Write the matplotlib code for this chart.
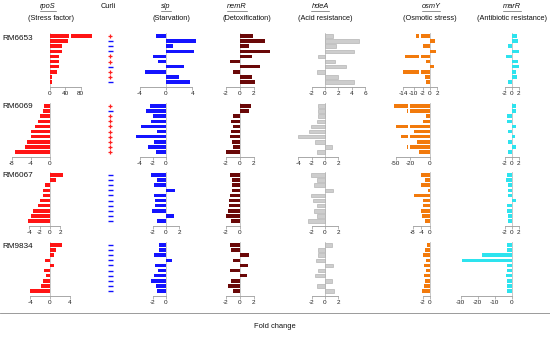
import numpy as np
import matplotlib
matplotlib.use("Agg")
import matplotlib.pyplot as plt
from matplotlib.lines import Line2D

plt.rcParams['font.family'] = ['Liberation Sans', 'DejaVu Sans']
plt.rcParams['axes.unicode_minus'] = False

# ---------------- data ----------------
strains = ['RM6653', 'RM6069', 'RM6067', 'RM9834']
genes = ['rpoS', 'slp', 'nemR', 'hdeA', 'osmY', 'marR']
functions = ['(Stress factor)', '(Starvation)', '(Detoxification)',
             '(Acid resistance)', '(Osmotic stress)', '(Antibiotic resistance)']

rpoS = [[102, 48, 32, 32, 24, 24, 23, 19, 5, 5],
        [-1.2, -1.5, -2.0, -2.6, -3.2, -4.0, -3.9, -4.8, -5.2, -7.4],
        [2.5, 1.2, -1.0, -1.3, -1.4, -2.0, -2.3, -3.2, -3.7, -4.2],
        [2.5, 1.2, 0.9, -1.0, 0.8, -1.3, -0.9, -1.5, -1.8, -4.0]]
slp = [[-1.5, 4.6, 1.0, 4.3, -1.9, -1.2, 2.7, -3.2, 1.9, 3.7],
       [-2.4, -3.0, -2.0, -2.3, -3.8, -1.4, -4.5, -1.8, -2.8, -1.5],
       [-2.3, -1.4, -1.8, 1.4, -1.8, -1.7, -1.7, -2.1, 1.2, -1.3],
       [-1.1, -1.1, -1.8, 0.9, -1.6, -1.2, -1.8, -2.2, -1.5, -1.4]]
nemR = [[1.9, 3.6, 1.3, 4.3, 1.8, -1.3, 2.9, -1.0, 1.8, 2.2],
        [1.6, 1.3, -1.0, -1.2, -1.0, -1.2, -1.3, -1.1, -1.0, -1.9],
        [-1.4, -1.1, -1.1, -1.1, -1.4, -1.5, -1.5, -1.6, -1.9, -1.2],
        [-1.3, -1.2, 1.3, -1.0, 1.2, -1.4, 1.0, -1.2, -1.6, -1.0]]
hdeA = [[1.15, 5.1, 1.6, 4.3, -1.1, 1.5, 3.2, -1.2, 1.9, 4.3],
        [-1.1, -1.1, -1.0, -1.25, -2.1, -2.35, -4.1, -1.5, 1.1, -1.15],
        [-2.1, -1.25, -1.6, 1.25, -2.15, -1.85, -1.25, -1.6, -1.15, -2.6],
        [1.1, -1.1, -1.1, -1.3, 1.2, -1.0, -1.5, 1.0, -1.2, 1.4]]
osmY = [[-9.3, 1.4, -2.1, 1.6, -13.2, -1.15, 1.0, -14.3, -1.4, -1.25],
        [-54, -25.4, -4.3, -7.3, -50, -16, -37, -12.7, -25, -11],
        [-4.1, -2.5, -4.1, -1.1, -7.3, -3.4, -3.1, -4.4, -3.9, -2.5],
        [-1.0, -1.5, -1.9, -1.2, -1.6, -1.1, -1.8, -1.3, -1.7, -2.2]]
marR = [[1.6, 1.8, -1.15, 2.2, -1.6, 1.9, 2.2, 1.15, 1.4, -1.15],
        [1.15, 1.25, -1.4, -1.25, 1.25, -1.05, 1.05, -1.05, 1.15, -1.15],
        [-1.4, -1.6, -1.15, -1.15, -1.15, 1.15, -1.35, -1.35, -1.15, -1.15],
        [-2.9, -2.9, -17.6, -29, -3.0, -2.5, -3.2, -2.8, -2.5, -3.0]]
curli = ['+---++-++-', '+-++++++++', '----------', '----------']

ticks = {
    'rpoS': [[0, 40, 80], [-8, -4, 0], [-4, -2, 0, 2], [-4, 0, 4]],
    'slp': [[-4, 0, 4], [-4, -2, 0], [-2, 0, 2], [-2, 0]],
    'nemR': [[-2, 0, 2], [-2, 0, 2], [-2, 0], [-2, 0, 2]],
    'hdeA': [[-2, 0, 2, 4, 6], [-4, -2, 0, 2], [-2, 0, 2], [-2, 0, 2]],
    'osmY': [[-14, -10, -2, 0, 2], [-50, -20, 0], [-8, -4, 0], [-2, 0]],
    'marR': [[-2, 0, 2], [-2, 0, 2], [-2, 0, 2], [-30, -20, -10, 0]],
}
values = {'rpoS': rpoS, 'slp': slp, 'nemR': nemR, 'hdeA': hdeA,
          'osmY': osmY, 'marR': marR}

# ---------------- style / layout ----------------
colors = {'rpoS': '#ff1414', 'slp': '#1414ff', 'nemR': '#6a0808',
          'hdeA': '#cdcdcd', 'osmY': '#f27a0c', 'marR': '#2de3ee'}
# axes left px, right px, zero px
cols = {'rpoS': (8, 95, 50), 'slp': (133, 200, 166), 'nemR': (220, 272, 239.5),
        'hdeA': (295, 372, 325), 'osmY': (390, 442, 430), 'marR': (455, 527, 511.7)}

def lin(p):
    return [(-1, -p), (0, 0), (1, p)]

# scale knots (value -> pixel offset from zero), broken axes where needed
scales = {
    'rpoS': [[(0, 0), (50, 18.75), (60, 20.75), (70, 25.75)], lin(4.75), lin(5.2), lin(4.9)],
    'slp': [lin(6.6)] * 4,
    'nemR': [lin(7.0)] * 4,
    'hdeA': [lin(6.67)] * 4,
    'osmY': [[(-17.9, -36.75), (-7.9, -10.75), (-2.5, -8.75), (0, 0), (1, 3.5)],
             [(-32, -26.4), (-22, -22), (-20, -20), (0, 0), (1, 1)],
             lin(2.15), lin(3.5)],
    'marR': [lin(3.5), lin(3.5), lin(3.5), lin(1.7)],
}
gaps = {('rpoS', 0): (50, 60), ('osmY', 0): (-7.9, -2.5), ('osmY', 1): (-22, -20)}

W, H = 550, 337
row_tops = [33, 103, 172, 242]
row_h = 54.06


def make_funcs(knots):
    xs = np.array([k[0] for k in knots], float)
    fs = np.array([k[1] for k in knots], float)
    s_lo = (fs[1] - fs[0]) / (xs[1] - xs[0])
    s_hi = (fs[-1] - fs[-2]) / (xs[-1] - xs[-2])

    def fwd(x):
        x = np.asarray(x, float)
        y = np.interp(x, xs, fs)
        y = np.where(x < xs[0], fs[0] + (x - xs[0]) * s_lo, y)
        y = np.where(x > xs[-1], fs[-1] + (x - xs[-1]) * s_hi, y)
        return y

    def inv(f):
        f = np.asarray(f, float)
        y = np.interp(f, fs, xs)
        y = np.where(f < fs[0], xs[0] + (f - fs[0]) / s_lo, y)
        y = np.where(f > fs[-1], xs[-1] + (f - fs[-1]) / s_hi, y)
        return y
    return fwd, inv


fig = plt.figure(figsize=(W / 100, H / 100), dpi=100)

def add_axes_px(L, R, top, h):
    return fig.add_axes([L / W, 1 - (top + h) / H, (R - L) / W, h / H])

ypos = np.arange(10)
axis_col = '#9a9a9a'

for gi, g in enumerate(genes):
    L, R, z = cols[g]
    for si, s in enumerate(strains):
        ax = add_axes_px(L, R, row_tops[si], row_h)
        ax.patch.set_alpha(0)
        fwd, inv = make_funcs(scales[g][si])
        ax.set_xscale('function', functions=(fwd, inv))
        ax.set_xlim(float(inv(L - z)), float(inv(R - z)))
        ax.set_ylim(10.0, -0.6)
        vals = values[g][si]
        ec = '#a8a8a8' if g == 'hdeA' else 'none'
        ax.barh(ypos, vals, height=0.72, color=colors[g], edgecolor=ec,
                linewidth=0.4, zorder=2)
        if (g, si) in gaps:
            a, b = gaps[(g, si)]
            for y, v in zip(ypos, vals):
                if (v > 0 and v > max(a, b)) or (v < 0 and v < min(a, b)):
                    ax.barh(y, b - a, left=a, height=0.9, color='white',
                            zorder=3)
        ax.axvline(0, color='#c0c0c0', lw=0.6, zorder=1)
        for sp in ['top', 'right', 'left']:
            ax.spines[sp].set_visible(False)
        ax.spines['bottom'].set_color(axis_col)
        ax.spines['bottom'].set_linewidth(0.6)
        tk = ticks[g][si]
        ax.spines['bottom'].set_bounds(min(tk), max(tk))
        ax.set_xticks(tk)
        ax.set_xticklabels([str(t) for t in tk])
        ax.tick_params(axis='x', length=1.8, width=0.5, color=axis_col,
                       labelsize=4.6, pad=1.2, labelcolor='#222222')
        ax.minorticks_off()
        ax.set_yticks([])

# Curli column
for si, s in enumerate(strains):
    ax = add_axes_px(95, 125, row_tops[si], row_h)
    ax.set_axis_off()
    ax.set_xlim(-1, 1)
    ax.set_ylim(10.0, -0.6)
    for y, sign in zip(ypos, curli[si]):
        if sign == '+':
            ax.plot(0, y, marker='+', ms=3.4, mew=0.9, color='#ff2020')
        else:
            ax.plot(0, y, marker='_', ms=3.6, mew=1.0, color='#1010ff')

# headers
gene_x = {'rpoS': 48, 'slp': 166, 'nemR': 237, 'hdeA': 320, 'osmY': 431, 'marR': 512}
func_x = {'rpoS': 51, 'slp': 171, 'nemR': 247, 'hdeA': 325, 'osmY': 430, 'marR': 512}
gene_texts = []
for g, fdesc in zip(genes, functions):
    t = fig.text(gene_x[g] / W, 1 - 7 / H, g, ha='center', va='center',
                 fontsize=5.3, style='italic', color='#111111')
    gene_texts.append(t)
    fig.text(func_x[g] / W, 1 - 18.5 / H, fdesc, ha='center', va='center',
             fontsize=5.3, color='#111111')
fig.text(108 / W, 1 - 7 / H, 'Curli', ha='center', va='center',
         fontsize=5.3, color='#111111')

label_y = [38, 106, 175, 246]
for s, yy in zip(strains, label_y):
    fig.text(2 / W, 1 - yy / H, s, ha='left', va='center', fontsize=5.9,
             color='#111111')

fig.add_artist(Line2D([0.0, 1.0], [1 - 313 / H, 1 - 313 / H],
                      transform=fig.transFigure, color='#8a8a8a', lw=0.6))
fig.text(275 / W, 1 - 327 / H, 'Fold change', ha='center', va='center',
         fontsize=5.4, color='#111111')

# underline gene names
fig.canvas.draw()
r = fig.canvas.get_renderer()
for t in gene_texts:
    bb = t.get_window_extent(renderer=r)
    x0, x1 = bb.x0 / W, bb.x1 / W
    yb = (bb.y0 - 0.3) / H
    fig.add_artist(Line2D([x0, x1], [yb, yb], transform=fig.transFigure,
                          color='#555555', lw=0.45))

fig.savefig('out.png', dpi=100)
